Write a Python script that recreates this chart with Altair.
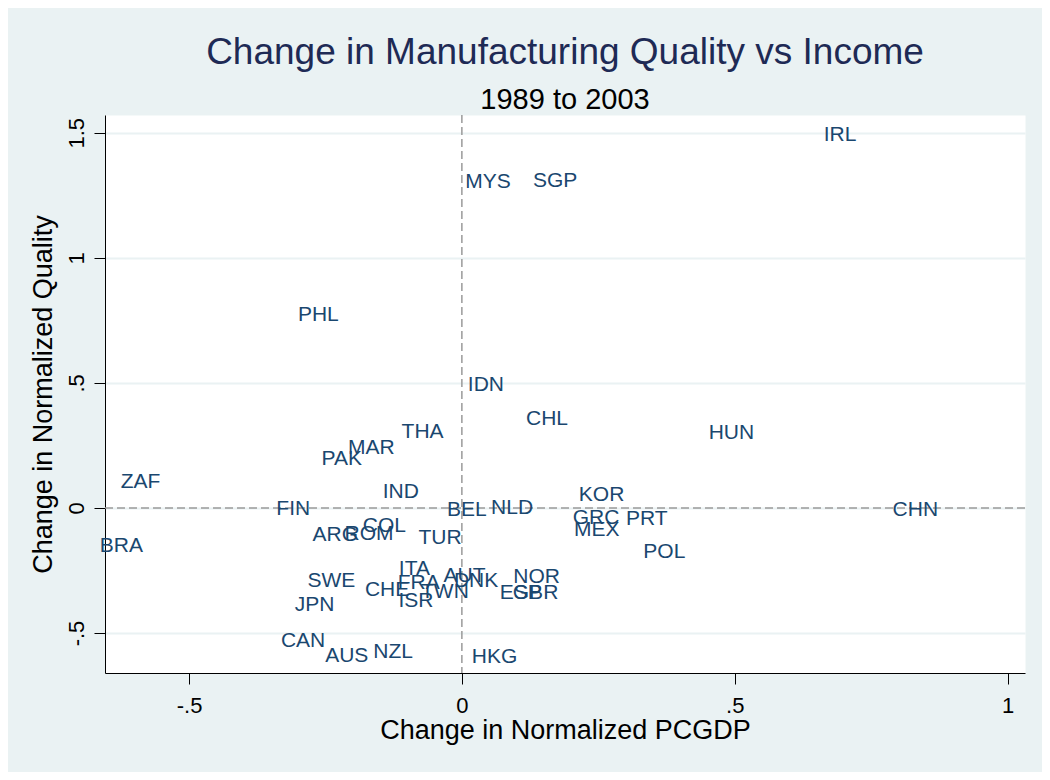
import altair as alt
import pandas as pd

# ---- data ----
countries = [
    "IRL", "MYS", "SGP", "PHL", "IDN", "CHL", "HUN", "THA", "MAR", "PAK",
    "ZAF", "IND", "FIN", "BEL", "NLD", "KOR", "CHN", "GRC", "PRT", "MEX",
    "POL", "COL", "ROM", "ARG", "BRA", "TUR", "ITA", "SWE", "AUT", "FRA",
    "DNK", "NOR", "CHE", "TWN", "ESP", "GBR", "ISR", "JPN", "CAN", "AUS",
    "NZL", "HKG",
]
pcgdp_change = [
    0.693, 0.048, 0.171, -0.263, 0.044, 0.156, 0.494, -0.072, -0.166, -0.220,
    -0.589, -0.112, -0.309, 0.009, 0.092, 0.256, 0.831, 0.246, 0.339, 0.247,
    0.371, -0.142, -0.170, -0.232, -0.624, -0.040, -0.087, -0.239, 0.005, -0.079,
    0.026, 0.137, -0.137, -0.031, 0.108, 0.135, -0.084, -0.270, -0.291, -0.211,
    -0.126, 0.060,
]
quality_change = [
    1.495, 1.307, 1.311, 0.775, 0.496, 0.360, 0.304, 0.306, 0.244, 0.198,
    0.108, 0.068, 0.000, -0.004, 0.004, 0.056, -0.004, -0.036, -0.040, -0.086,
    -0.174, -0.068, -0.100, -0.106, -0.148, -0.118, -0.240, -0.290, -0.270, -0.298,
    -0.288, -0.274, -0.324, -0.332, -0.338, -0.338, -0.370, -0.384, -0.528, -0.588,
    -0.574, -0.592,
]

x_ticks = [-0.5, 0, 0.5, 1]
y_ticks = [-0.5, 0, 0.5, 1, 1.5]
x_domain = [-0.654, 1.032]
y_domain = [-0.66, 1.571]
ref_x = [0]
ref_y = [0]

df = pd.DataFrame({"country": countries, "x": pcgdp_change, "y": quality_change})
vref = pd.DataFrame({"x": ref_x})
href = pd.DataFrame({"y": ref_y})

FONT = "Liberation Sans, Arial, Helvetica, sans-serif"
BG = "#EAF2F3"
label_expr = "(datum.value < 0 ? '-' : '') + replace(format(abs(datum.value), '~g'), '0.', '.')"

xs = alt.Scale(domain=x_domain, nice=False, zero=False)
ys = alt.Scale(domain=y_domain, nice=False, zero=False)

x_axis = alt.Axis(
    values=x_ticks,
    title="Change in Normalized PCGDP",
    labelExpr=label_expr,
    grid=False,
    labelFlush=False,
    titlePadding=1,
)
y_axis = alt.Axis(
    values=y_ticks,
    title="Change in Normalized Quality",
    labelExpr=label_expr,
    grid=True,
    gridColor=BG,
    gridWidth=2,
    labelAngle=270,
    labelAlign="center",
    labelBaseline="alphabetic",
    labelFlush=False,
    labelOverlap=False,
    titlePadding=8,
)

x_enc = alt.X("x:Q", scale=xs, axis=x_axis)
y_enc = alt.Y("y:Q", scale=ys, axis=y_axis)

vline = alt.Chart(vref).mark_rule(color="#9a9a9a", strokeWidth=1.5, strokeDash=[8, 4]).encode(
    x=x_enc
)
hline = alt.Chart(href).mark_rule(color="#9a9a9a", strokeWidth=1.5, strokeDash=[8, 4]).encode(
    y=y_enc
)

labels = alt.Chart(df).mark_text(
    font=FONT, fontSize=21, color="#1a476f", align="center", baseline="middle", dy=1
).encode(
    x=x_enc,
    y=y_enc,
    text="country:N",
)

chart = (
    alt.layer(vline, hline, labels)
    .properties(
        width=920,
        height=558,
        padding={"left": 97, "top": 107, "right": 17, "bottom": 99},
        autosize=alt.AutoSizeParams(type="none"),
        background=BG,
        title=alt.TitleParams(
            text="Change in Manufacturing Quality vs Income",
            subtitle="1989 to 2003",
            font=FONT,
            fontSize=37,
            fontWeight="normal",
            color="#1E2A55",
            subtitleFont=FONT,
            subtitleFontSize=29,
            subtitleColor="black",
            anchor="middle",
            offset=-2,
            subtitlePadding=14,
        ),
    )
    .configure_view(fill="white", stroke="transparent")
    .configure_axis(
        domainColor="black",
        domainWidth=1,
        tickColor="black",
        tickSize=11,
        tickWidth=1,
        labelFont=FONT,
        labelFontSize=22,
        labelColor="black",
        labelPadding=11,
        titleFont=FONT,
        titleFontSize=27,
        titleFontWeight="normal",
        titleColor="black",
    )
)

chart.save("out.html", embed_options={"renderer": "svg", "actions": False})
